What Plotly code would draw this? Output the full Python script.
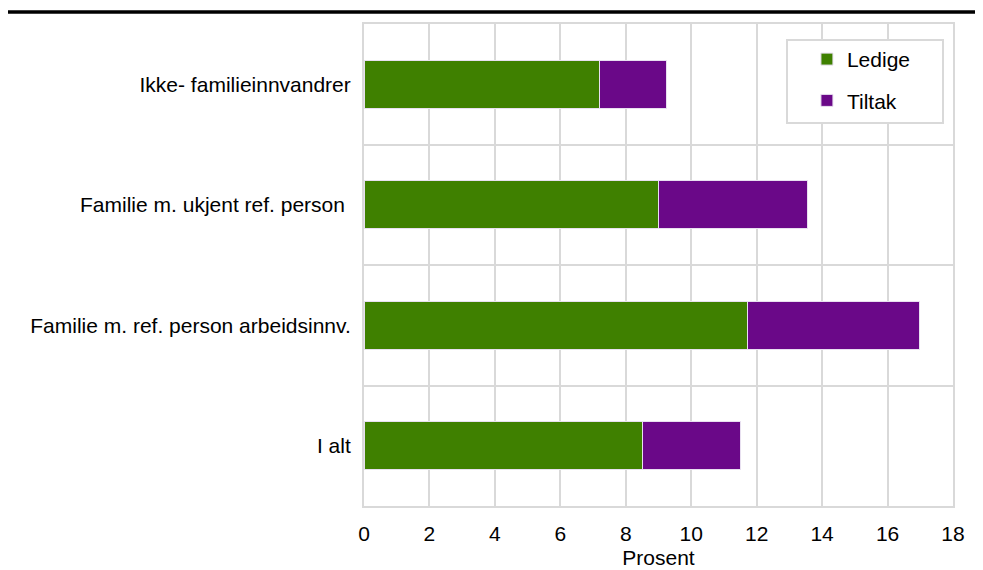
import plotly.graph_objects as go

# categories top to bottom
kategorier = ["Ikke- familieinnvandrer", "Familie m. ukjent ref. person ",
              "Familie m. ref. person arbeidsinnv.", "I alt"]
ledige = [7.2, 9.0, 11.72, 8.5]
tiltak = [2.05, 4.55, 5.25, 3.02]

fig = go.Figure()
fig.add_trace(go.Bar(y=kategorier, x=ledige, name="Ledige", orientation="h",
                     marker=dict(color="#3f8000", line=dict(color="#e8e0f0", width=1)),
                     legendgroup="a"))
fig.add_trace(go.Bar(y=kategorier, x=tiltak, name="Tiltak", orientation="h",
                     marker=dict(color="#6a0888", line=dict(color="#e8e0f0", width=1)),
                     legendgroup="b"))

fig.update_layout(
    width=975, height=562,
    barmode="stack", bargap=0.6,
    plot_bgcolor="white", paper_bgcolor="white",
    font=dict(family="Liberation Sans, Arial, sans-serif", size=21, color="black"),
    margin=dict(l=356, r=30, t=16, b=64),
    legend=dict(x=0.752, y=0.969, xanchor="left", yanchor="top",
                borderwidth=0, bgcolor="rgba(0,0,0,0)",
                traceorder="grouped", tracegroupgap=11,
                font=dict(size=21)),
)
fig.update_xaxes(range=[0, 18], dtick=2, showgrid=True, gridcolor="#d9d9d9", gridwidth=2,
                 zeroline=False, showline=True, linecolor="#d9d9d9", linewidth=2, mirror=True,
                 ticks="", ticklabelstandoff=8, automargin=False,
                 title=dict(text="Prosent", standoff=6, font=dict(size=21)))
fig.update_yaxes(autorange="reversed", tickson="boundaries", showgrid=True,
                 gridcolor="#d9d9d9", gridwidth=2, showline=True, linecolor="#d9d9d9",
                 linewidth=2, mirror=True, ticks="", ticklabelstandoff=7, automargin=False)

# legend frame
fig.add_shape(type="rect", xref="paper", yref="paper", x0=0.7182, x1=0.983,
              y0=0.7946, y1=0.9668, fillcolor="white", layer="above",
              line=dict(color="#d9d9d9", width=2))

# black rule at the top of the figure
fig.add_shape(type="line", xref="paper", yref="paper", x0=-0.61, x1=1.06,
              y0=1.025, y1=1.025, line=dict(color="black", width=3.5))

fig.write_html("out.html")
